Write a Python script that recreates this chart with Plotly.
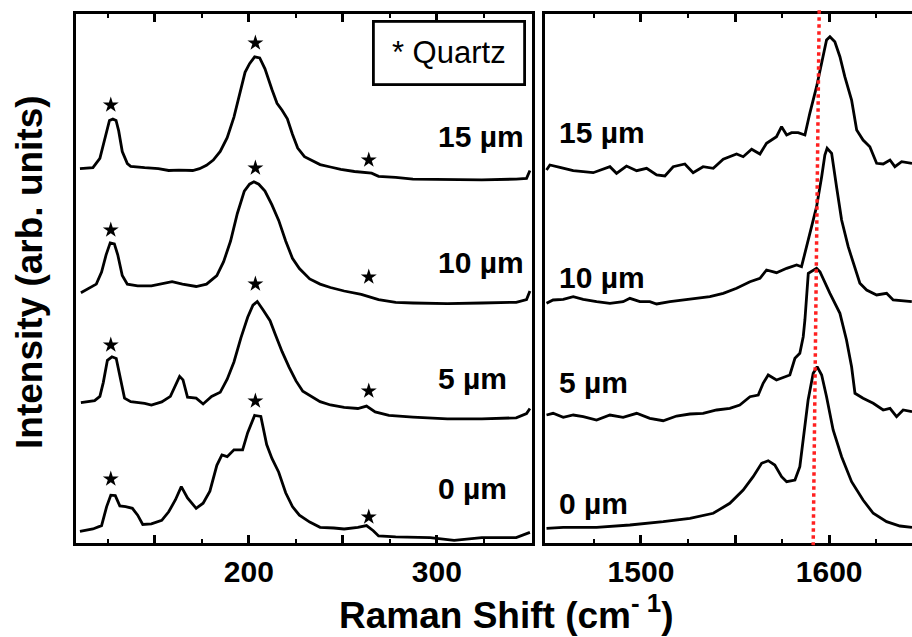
import plotly.graph_objects as go

# ---------------- data (left panel: low-frequency region) ----------------
L15_x = [110.2,117.1,120.8,123.5,125.9,127.7,129.4,130.8,132.7,135.4,137.2,144.6,151.9,157.4,162.8,170.2,173.8,177.5,181.1,184.8,188.5,192.1,195.8,198.0,200.4,203.1,205.8,208.6,212.3,215.0,217.7,220.5,223.2,226.0,229.6,233.3,237.9,243.4,248.9,256.2,261.7,265.3,269.0,278.1,287.3,305.6,323.9,342.2,347.7,349.5]
L15_y = [374.3,375.3,384.6,405.3,422.5,423.9,422.5,412.1,391.5,379.4,376.7,375.3,374.3,372.5,372.9,372.5,374.3,377.7,382.9,391.5,405.3,425.9,453.5,470.7,479.3,486.2,485.1,474.1,453.5,439.7,432.8,424.2,408.7,394.9,386.3,382.9,378.4,376.0,373.6,371.5,370.8,369.8,366.7,365.7,363.9,363.2,363.2,363.9,364.6,372.5]

L10_x = [110.7,115.3,118.9,121.7,124.1,126.3,128.5,130.3,132.7,135.4,140.9,148.2,153.7,159.2,164.7,172.0,177.5,183.0,186.6,190.3,193.9,197.6,200.4,202.7,205.3,208.6,212.3,215.9,219.6,223.2,226.9,232.4,237.9,243.4,250.7,259.8,269.0,278.1,287.3,305.6,323.9,342.2,347.7,349.5]
L10_y = [250.3,255.5,258.9,271.0,288.2,300.2,299.2,288.2,267.5,258.9,257.2,257.2,258.9,261.3,258.9,256.5,258.9,267.5,281.3,302.0,329.5,351.9,358.8,361.2,358.8,351.9,338.1,322.6,302.0,284.7,274.4,264.1,258.9,255.5,252.0,248.6,243.4,240.7,240.0,239.3,240.0,240.7,243.4,252.0]

L5_x = [110.7,118.0,120.8,122.6,124.8,127.2,129.5,131.7,133.9,137.2,144.6,148.2,153.7,158.3,161.0,163.2,165.0,167.4,172.0,175.7,180.2,184.8,188.5,192.1,195.8,199.4,202.2,204.5,207.7,211.3,214.1,217.7,221.4,225.1,228.7,233.3,237.9,243.4,250.7,258.0,262.6,267.2,274.5,287.3,305.6,323.9,342.2,347.7,349.5]
L5_y = [140.4,142.4,146.6,160.4,182.7,186.2,184.5,163.8,144.9,141.4,139.7,138.0,141.1,146.6,156.9,166.6,163.1,145.9,144.9,139.0,146.6,150.7,163.8,181.0,205.1,225.8,237.8,241.5,232.7,222.3,208.6,191.3,175.9,162.1,151.7,146.6,141.4,138.0,135.6,134.5,136.9,131.1,127.6,125.9,124.2,124.2,125.2,129.4,134.5]

L0_x = [110.2,117.1,121.7,124.4,126.6,129.0,131.4,134.5,138.1,140.9,143.6,148.2,153.7,157.4,161.0,164.1,167.4,172.0,175.7,179.3,183.0,185.7,188.5,192.1,196.7,199.4,203.1,206.4,209.5,212.3,215.9,219.6,223.2,226.9,232.4,237.9,245.2,250.7,258.0,262.6,266.2,269.0,278.1,296.4,309.2,323.9,342.2,349.5]
L0_y = [11.6,14.0,17.4,36.4,47.8,47.4,37.1,36.4,34.7,27.8,18.5,19.2,22.6,31.2,43.3,56.4,45.0,34.7,39.8,51.9,77.7,88.0,86.3,93.2,93.2,110.4,127.6,126.6,98.4,84.6,70.8,50.2,36.4,27.8,20.9,15.7,15.0,14.0,15.7,17.4,12.3,7.1,6.1,5.4,2.6,5.4,5.4,10.6]

# quartz marks (left panel)
Q_x = [126.6,203.5,263.8, 126.6,203.5,263.8, 126.6,203.5,263.8, 126.6,203.5,263.8]
Q_y = [438,500,383, 313,375,266, 198,259,152, 64,142,26]

# ---------------- data (right panel: G band region) ----------------
R15_x = [1449.8,1451.6,1456.9,1464.0,1474.6,1483.5,1487.0,1492.3,1497.7,1503.0,1508.3,1512.7,1517.1,1523.3,1527.7,1533.0,1538.4,1543.7,1550.8,1554.3,1558.8,1563.2,1566.7,1572.0,1574.7,1577.4,1580.0,1583.5,1587.1,1589.7,1593.3,1596.0,1598.6,1600.4,1603.0,1605.7,1608.3,1611.9,1614.6,1618.0,1621.6,1625.2,1628.7,1632.3,1634.9,1638.5,1644.0]
R15_y = [373.0,378.0,375.7,372.3,370.3,376.3,369.7,377.0,372.3,374.7,368.0,367.0,376.3,379.0,370.3,376.3,374.7,383.7,389.0,386.3,393.7,389.0,399.7,406.3,416.3,408.0,410.3,410.3,408.0,429.7,456.3,481.3,503.0,506.3,501.3,486.3,466.3,443.0,413.0,403.0,396.3,379.7,379.0,383.0,376.3,381.3,379.7]

R10_x = [1449.8,1453.3,1458.7,1464.0,1469.3,1476.4,1483.5,1490.5,1494.1,1499.4,1504.7,1508.3,1515.4,1522.4,1529.5,1536.6,1543.7,1550.8,1557.9,1563.2,1566.7,1572.0,1577.4,1582.7,1585.3,1588.0,1590.6,1593.3,1596.0,1597.7,1598.9,1601.3,1603.9,1606.6,1610.1,1613.7,1616.3,1619.9,1625.2,1630.5,1634.0,1643.9]
R10_y = [239.7,243.0,243.7,246.3,243.7,241.3,239.7,241.3,244.7,241.3,241.3,239.0,241.3,243.0,244.7,246.3,249.7,254.7,261.3,264.7,273.0,270.3,274.7,278.0,276.3,296.3,316.3,336.3,366.3,388.0,394.7,389.7,356.3,323.0,296.3,276.3,259.7,253.0,248.0,249.7,243.0,241.3]

R5_x = [1449.8,1453.3,1458.7,1464.0,1469.3,1476.4,1483.5,1490.5,1497.7,1504.7,1511.8,1518.9,1526.0,1533.0,1540.2,1547.2,1552.5,1557.9,1562.3,1564.9,1567.6,1572.0,1579.1,1581.8,1584.4,1586.2,1587.1,1588.9,1593.3,1595.1,1600.4,1605.7,1609.2,1611.9,1613.7,1618.0,1623.4,1628.7,1632.3,1635.8,1639.3,1644.0]
R5_y = [128.0,129.7,125.7,128.0,126.3,123.0,128.0,125.7,129.7,124.7,122.3,127.0,129.0,129.7,133.0,134.7,138.0,146.3,148.0,159.7,168.0,163.0,168.0,184.7,189.7,206.3,223.0,269.7,274.7,271.3,249.7,229.7,203.0,176.3,149.7,144.7,139.7,133.0,134.7,126.3,133.0,131.3]

R0_x = [1449.8,1458.7,1476.4,1494.1,1511.8,1526.0,1538.4,1547.2,1554.3,1559.6,1564.1,1567.6,1571.1,1574.7,1577.4,1581.8,1584.4,1586.2,1588.8,1591.5,1593.6,1596.0,1598.6,1602.1,1606.6,1611.9,1618.0,1623.4,1630.5,1637.6,1644.0]
R0_y = [14.7,15.7,15.7,18.0,21.3,24.7,29.7,39.7,53.0,66.3,79.7,82.3,78.0,66.3,61.3,63.0,76.3,103.0,143.0,169.7,176.3,168.0,146.3,113.0,86.3,61.3,43.0,29.7,21.3,17.0,15.7]

labels = ["15 µm", "10 µm", "5 µm", "0 µm"]
label_y_left = [407, 281, 165, 55]
label_y_right = [411, 266, 161, 40]
g_line_x = [1594.7, 1591.5]   # guide line (top, bottom)

xtick_left = [200, 300]
xtick_left_long = [150, 250]
xminor_left = [125, 175, 225, 275, 325]
xtick_right = [1500, 1600]
xtick_right_long = [1550]
xminor_right = [1475, 1525, 1575, 1625]
x_range_left = [108.1, 350.6]
x_range_right = [1449, 1644]
y_range = [0, 529]

# ---------------- figure ----------------
W, H = 912, 637
FONT = "Liberation Sans, Arial, sans-serif"
dom_left = [76 / W, 532 / W]
dom_right = [545 / W, 1.0]

fig = go.Figure()
line = dict(color="black", width=2.8)
for xs, ys in [(L15_x, L15_y), (L10_x, L10_y), (L5_x, L5_y), (L0_x, L0_y)]:
    fig.add_trace(go.Scatter(x=xs, y=ys, mode="lines", line=line, xaxis="x", yaxis="y", showlegend=False))
for xs, ys in [(R15_x, R15_y), (R10_x, R10_y), (R5_x, R5_y), (R0_x, R0_y)]:
    fig.add_trace(go.Scatter(x=xs, y=ys, mode="lines", line=line, xaxis="x2", yaxis="y2", showlegend=False))
fig.add_trace(go.Scatter(x=Q_x, y=Q_y, mode="markers", xaxis="x", yaxis="y", showlegend=False,
                         marker=dict(symbol="star", size=12, color="black", line=dict(width=0))))

tick_font = dict(family=FONT, size=30, color="black", weight="bold")
axis_common = dict(showgrid=False, zeroline=False, showline=True, linecolor="black", linewidth=2.8,
                   ticks="inside", ticklen=8, tickwidth=2.5, tickcolor="black", tickfont=tick_font)
overlay_common = dict(showgrid=False, zeroline=False, showline=False, ticks="inside", ticklen=8, tickwidth=2.5,
                      tickcolor="black", showticklabels=False, mirror="ticks")
fig.update_layout(
    width=W, height=H, paper_bgcolor="white", plot_bgcolor="white",
    margin=dict(l=0, r=0, t=14, b=94),
    xaxis=dict(domain=dom_left, range=x_range_left, tickvals=xtick_left, ticktext=[str(v) for v in xtick_left],
               mirror="ticks",
               minor=dict(tickvals=xminor_left, ticks="inside", ticklen=4, tickwidth=2, tickcolor="black"),
               **axis_common),
    xaxis3=dict(domain=dom_left, range=x_range_left, tickvals=xtick_left_long, overlaying="x", anchor="y",
                **overlay_common),
    xaxis2=dict(domain=dom_right, range=x_range_right, tickvals=xtick_right, ticktext=[str(v) for v in xtick_right],
                mirror="ticks", anchor="y2",
                minor=dict(tickvals=xminor_right, ticks="inside", ticklen=4, tickwidth=2, tickcolor="black"),
                **axis_common),
    xaxis4=dict(domain=dom_right, range=x_range_right, tickvals=xtick_right_long, overlaying="x2", anchor="y2",
                **overlay_common),
    yaxis=dict(range=y_range, showgrid=False, zeroline=False, showline=True, linecolor="black", linewidth=2.8,
               mirror=True, ticks="", showticklabels=False),
    yaxis2=dict(range=y_range, anchor="x2", showgrid=False, zeroline=False, showline=True, linecolor="black",
                linewidth=2.8, mirror=False, ticks="", showticklabels=False),
)
# invisible traces so the overlay axes are drawn
fig.add_trace(go.Scatter(x=[x_range_left[0]], y=[-10], mode="markers", marker=dict(opacity=0),
                         xaxis="x3", yaxis="y", showlegend=False, hoverinfo="skip"))
fig.add_trace(go.Scatter(x=[x_range_right[0]], y=[-10], mode="markers", marker=dict(opacity=0),
                         xaxis="x4", yaxis="y2", showlegend=False, hoverinfo="skip"))

# guide line
fig.add_shape(type="line", xref="x2", yref="paper", x0=g_line_x[0], x1=g_line_x[1], y0=1.007, y1=-0.004,
              line=dict(color="#ff2020", width=3.5, dash="dot"))

lab_font = dict(family=FONT, size=30, color="black", weight="bold")
for t, yv in zip(labels, label_y_left):
    fig.add_annotation(x=436 / W, xref="paper", y=yv, yref="y", text=t, showarrow=False,
                       xanchor="left", yanchor="middle", font=lab_font)
for t, yv in zip(labels, label_y_right):
    fig.add_annotation(x=557 / W, xref="paper", y=yv, yref="y2", text=t, showarrow=False,
                       xanchor="left", yanchor="middle", font=lab_font)

# legend-like box
fig.add_annotation(x=448.5 / W, xref="paper", y=(543 - 53) / 529, yref="paper", text="* Quartz",
                   showarrow=False, xanchor="center", yanchor="middle",
                   font=dict(family=FONT, size=31, color="black"),
                   bordercolor="black", borderwidth=2.8, borderpad=0, width=148, height=60, bgcolor="white")

# axis titles
fig.add_annotation(x=29 / W, xref="paper", y=(543 - 272) / 529, yref="paper", text="Intensity (arb. units)",
                   textangle=-90, showarrow=False, xanchor="center", yanchor="middle",
                   font=dict(family=FONT, size=37, color="black", weight="bold"))
fig.add_annotation(x=506 / W, xref="paper", y=(543 - 612) / 529, yref="paper", text="Raman Shift (cm<sup>- 1</sup>)",
                   showarrow=False, xanchor="center", yanchor="middle",
                   font=dict(family=FONT, size=37, color="black", weight="bold"))

fig.write_html("out.html")
